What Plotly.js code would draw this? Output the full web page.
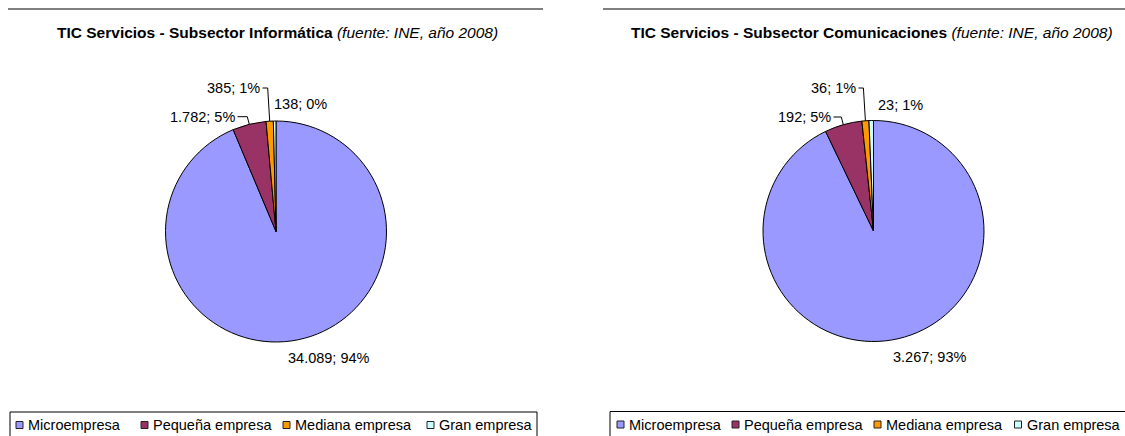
<!DOCTYPE html>
<html>
<head>
<meta charset="utf-8">
<script src="https://cdn.plot.ly/plotly-3.0.1.min.js"></script>
<style>html,body{margin:0;padding:0;background:#fff;}#chart{width:1125px;height:436px;}</style>
</head>
<body>
<div id="chart"></div>
<script>
// ---- data ----
const categories = ['Microempresa', 'Pequeña empresa', 'Mediana empresa', 'Gran empresa'];
const informaticaValues = [34089, 1782, 385, 138];
const comunicacionesValues = [3267, 192, 36, 23];
const chartTitlesBold = ['TIC Servicios - Subsector Informática', 'TIC Servicios - Subsector Comunicaciones'];
const chartSubtitle = '(fuente: INE, año 2008)';

// ---- styles / layout ----
const colors = ['#9999FF', '#993366', '#FF9900', '#CCFFFF'];
const W = 1125, H = 436;
const FONT = 'Liberation Sans, Arial, sans-serif';
const px = x => x / W;
const py = y => 1 - y / H;

const panels = [
  { values: informaticaValues, cx: 276, cy: 231.5, r: 110.5, titleX: 277, lineX: [8, 543],
    legendBox: [10, 537], legendTop: 412,
    legendItems: [16, 141, 283, 427],
    labels: [
      { x: 329, y: 358, anchor: 'center', leader: false },
      { x: 236, y: 116.7, anchor: 'right', leader: true },
      { x: 261, y: 88, anchor: 'right', leader: true },
      { x: 273, y: 104, anchor: 'left', leader: false }
    ] },
  { values: comunicacionesValues, cx: 873.5, cy: 231, r: 110.5, titleX: 872, lineX: [603, 1125],
    legendBox: [610, 1135], legendTop: 411.5,
    legendItems: [617, 732, 874, 1014.5],
    labels: [
      { x: 929.5, y: 357, anchor: 'center', leader: false },
      { x: 832, y: 117, anchor: 'right', leader: true },
      { x: 857, y: 88, anchor: 'right', leader: true },
      { x: 877, y: 105, anchor: 'left', leader: false }
    ] }
];

function fmtNum(n) { return String(n).replace(/\B(?=(\d{3})+(?!\d))/g, '.'); }

const traces = [];
const annotations = [];
const shapes = [];

panels.forEach((p, pi) => {
  traces.push({
    type: 'pie',
    labels: categories,
    values: p.values,
    sort: false,
    direction: 'clockwise',
    rotation: 0,
    textinfo: 'none',
    hoverinfo: 'label+value+percent',
    showlegend: false,
    marker: { colors: colors, line: { color: '#000000', width: 1 } },
    domain: { x: [px(p.cx - p.r), px(p.cx + p.r)], y: [py(p.cy + p.r), py(p.cy - p.r)] }
  });

  // title
  annotations.push({
    xref: 'paper', yref: 'paper', x: px(p.titleX), y: py(32), xanchor: 'center', yanchor: 'middle',
    text: '<b>' + chartTitlesBold[pi] + '</b> <i>' + chartSubtitle + '</i>',
    showarrow: false, font: { family: FONT, size: 15.5, color: '#000' }
  });

  // top rule
  shapes.push({ type: 'line', xref: 'paper', yref: 'paper',
    x0: px(p.lineX[0]), x1: px(p.lineX[1]), y0: py(9), y1: py(9),
    line: { color: '#000', width: 1.2 } });

  // data labels
  const total = p.values.reduce((a, b) => a + b, 0);
  let cum = 0;
  p.values.forEach((v, i) => {
    const mid = (cum + v / 2) / total * 2 * Math.PI;
    cum += v;
    const ex = p.cx + p.r * Math.sin(mid);
    const ey = p.cy - p.r * Math.cos(mid);
    const L = p.labels[i];
    const txt = fmtNum(v) + '; ' + Math.round(v / total * 100) + '%';
    annotations.push({
      xref: 'paper', yref: 'paper', x: px(L.x), y: py(L.y), xanchor: L.anchor, yanchor: 'middle',
      text: txt, showarrow: false, borderpad: 0,
      font: { family: FONT, size: 14.5, color: '#000' }
    });
    if (L.leader) {
      const sx = L.x + 1.5;
      const kx = ex - 2;
      shapes.push({ type: 'path', xref: 'paper', yref: 'paper',
        path: 'M' + px(sx) + ',' + py(L.y) + ' L' + px(kx) + ',' + py(L.y) + ' L' + px(ex) + ',' + py(ey),
        line: { color: '#000', width: 1 } });
    }
  });

  // legend box
  shapes.push({ type: 'rect', xref: 'paper', yref: 'paper',
    x0: px(p.legendBox[0]), x1: px(p.legendBox[1]), y0: py(p.legendTop), y1: py(H + 10),
    line: { color: '#000', width: 1 }, fillcolor: 'rgba(0,0,0,0)' });
  categories.forEach((c, i) => {
    const sx = p.legendItems[i];
    const cyL = p.legendTop + 13;
    shapes.push({ type: 'rect', xref: 'paper', yref: 'paper',
      x0: px(sx), x1: px(sx + 7), y0: py(cyL + 3.5), y1: py(cyL - 3.5),
      line: { color: '#222', width: 1 }, fillcolor: colors[i] });
    annotations.push({
      xref: 'paper', yref: 'paper', x: px(sx + 11), y: py(cyL), xanchor: 'left', yanchor: 'middle',
      text: c, showarrow: false, borderpad: 0,
      font: { family: FONT, size: 14.5, color: '#000' }
    });
  });
});

const layout = {
  width: W, height: H,
  margin: { l: 0, r: 0, t: 0, b: 0 },
  paper_bgcolor: '#ffffff', plot_bgcolor: '#ffffff',
  showlegend: false,
  annotations: annotations,
  shapes: shapes
};

Plotly.newPlot('chart', traces, layout, { displayModeBar: false, staticPlot: true });
</script>
</body>
</html>
